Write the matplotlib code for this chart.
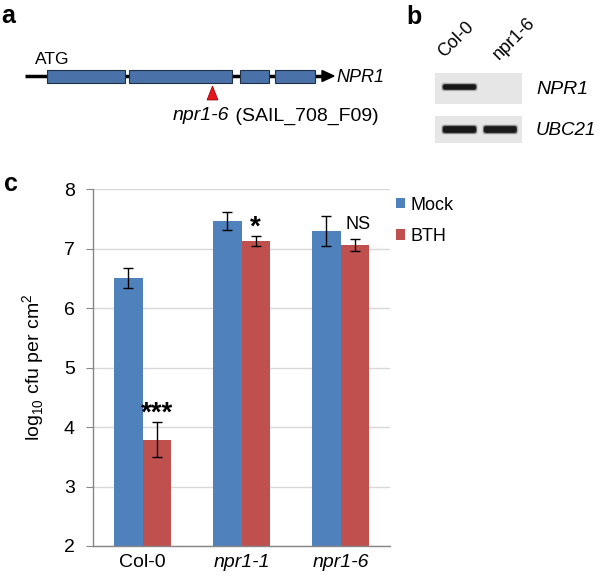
import matplotlib
matplotlib.use("Agg")
import matplotlib.pyplot as plt
from matplotlib.patches import Rectangle, Polygon, FancyBboxPatch
import numpy as np

plt.rcParams['font.family'] = ['Liberation Sans', 'DejaVu Sans']
plt.rcParams['mathtext.fontset'] = 'custom'
plt.rcParams['mathtext.rm'] = 'Liberation Sans'

# ---- data (panel c) ----
genotypes = ["Col-0", "npr1-1", "npr1-6"]
genotype_italic = [False, True, True]
mock_vals = [6.51, 7.46, 7.30]
mock_err = [0.17, 0.15, 0.25]
bth_vals = [3.79, 7.13, 7.06]
bth_err = [0.30, 0.08, 0.10]
signif = ["***", "*", "NS"]
series_names = ["Mock", "BTH"]
yticks = [2, 3, 4, 5, 6, 7, 8]

# ---- panel a: gene model (pixel coordinates of the schematic) ----
exon_starts = [47, 129, 240, 275]
exon_ends = [125, 232, 269, 315]
insertion_x = 212.5

# ---- panel b: gel ----
lanes = ["Col-0", "npr1-6"]
genes = ["NPR1", "UBC21"]
band_intensity = [[1.0, 0.0], [1.0, 0.95]]

W, H = 600, 577
fig = plt.figure(figsize=(W / 100, H / 100), dpi=100)

# overlay axes in pixel coordinates for panels a and b
ov = fig.add_axes([0, 0, 1, 1])
ov.set_xlim(0, W)
ov.set_ylim(H, 0)
ov.axis("off")
ov.patch.set_visible(False)

blue = "#4F81BD"
red = "#C0504D"

# panel labels
ov.text(8, 16, "a", fontsize=18, fontweight="bold", ha="center", va="center")
ov.text(414, 17, "b", fontsize=18, fontweight="bold", ha="center", va="center")
ov.text(11, 184, "c", fontsize=18, fontweight="bold", ha="center", va="center")

# gene line + arrow
gy = 76
ov.plot([25, 324], [gy, gy], color="black", lw=2.5, solid_capstyle="butt", zorder=1)
ov.add_patch(Polygon([[322, gy - 5.5], [334, gy], [322, gy + 5.5]], closed=True,
                     color="black", zorder=2))
for s, e in zip(exon_starts, exon_ends):
    ov.add_patch(Rectangle((s, gy - 6.5), e - s, 13, facecolor="#4A72A8",
                           edgecolor="#1F2F45", lw=0.8, zorder=3))
ov.text(52, 60, "ATG", fontsize=12.5, ha="center", va="center")
ov.text(336, 77, "NPR1", fontsize=13, style="italic", ha="left", va="center")
ov.add_patch(Polygon([[insertion_x - 5.5, 100], [insertion_x, 86], [insertion_x + 5.5, 100]],
                     closed=True, facecolor="#E8141B", edgecolor="#8B0000", lw=0.5, zorder=3))
t1 = ov.text(173, 116, "npr1-6", fontsize=14, style="italic", ha="left", va="center")
ov.annotate(" (SAIL_708_F09)", xy=(1, 0.5), xycoords=t1, fontsize=14,
            ha="left", va="center")

# gel
gel_x0, gel_x1 = 435, 522
gel_rows = [(72.5, 103.5), (116, 143)]
lane_x = [(442, 477), (483, 517.5)]
for gi, (y0, y1) in enumerate(gel_rows):
    ov.add_patch(Rectangle((gel_x0, y0), gel_x1 - gel_x0, y1 - y0,
                           facecolor="#E6E6E6", edgecolor="none", zorder=1))
    yc = (y0 + y1) / 2 - 1 if gi == 0 else (y0 + y1) / 2
    th = 5 if gi == 0 else 6.5
    for li, (lx0, lx1) in enumerate(lane_x):
        inten = band_intensity[gi][li]
        if inten <= 0:
            continue
        for k, a in [(3.0, 0.15), (1.8, 0.3), (0.8, 0.5), (0, 0.9)]:
            ov.add_patch(FancyBboxPatch((lx0 + 1 - k * 0.6, yc - th / 2 - k * 0.6),
                                        lx1 - lx0 - 2 + k * 1.2, th + k * 1.2,
                                        boxstyle="round,pad=0,rounding_size=2.5",
                                        facecolor="#111111", edgecolor="none",
                                        alpha=a * inten, zorder=2))
    ov.text(536, (y0 + y1) / 2 + 1, genes[gi], fontsize=14 if gi == 0 else 13.5,
            style="italic", ha="left", va="center")
ov.text(447, 61, lanes[0], fontsize=13, rotation=45, ha="left", va="bottom",
        rotation_mode="anchor")
ov.text(502, 63, lanes[1], fontsize=13, rotation=45, ha="left", va="bottom",
        rotation_mode="anchor")

# ---- panel c: bar chart ----
left, right, top, bottom = 93, 390, 189.3, 546
ax = fig.add_axes([left / W, 1 - bottom / H, (right - left) / W, (bottom - top) / H])
x = np.arange(len(genotypes))
bw = 0.286
overlap = 0.01  # mock bar slips just under the BTH bar so no seam shows
ax.bar(x - bw, [v - 2 for v in mock_vals], bw + overlap, bottom=2, align="edge",
       color=blue, label=series_names[0], lw=0, edgecolor="none", zorder=2)
ax.bar(x + bw / 2, [v - 2 for v in bth_vals], bw, bottom=2, color=red,
       label=series_names[1], lw=0, edgecolor="none", zorder=2.1)
ax.errorbar(x - bw / 2, mock_vals, yerr=mock_err, fmt="none", ecolor="black",
            elinewidth=1, capsize=3.5, capthick=1, zorder=3)
ax.errorbar(x + bw / 2, bth_vals, yerr=bth_err, fmt="none", ecolor="black",
            elinewidth=1, capsize=3.5, capthick=1, zorder=3)
for i, s in enumerate(signif):
    ytop = bth_vals[i] + bth_err[i]
    if s == "NS":
        ax.text(x[i] + bw / 2 + 0.03, ytop + 0.11, s, fontsize=13, ha="center", va="bottom")
    else:
        ax.text(x[i] + bw / 2, ytop - 0.08, s, fontsize=20, fontweight="bold",
                ha="center", va="bottom")

ax.set_xlim(-0.5, 2.5)
ax.set_ylim(2, 8)
ax.set_yticks(yticks)
ax.set_yticklabels([str(t) for t in yticks], fontsize=14)
ax.set_xticks(x)
ax.set_xticklabels(genotypes, fontsize=14)
for lab, it in zip(ax.get_xticklabels(), genotype_italic):
    if it:
        lab.set_style("italic")
ax.tick_params(axis="x", length=0, pad=6)
ax.tick_params(axis="y", length=5, color="#868686", pad=8)
ax.grid(axis="y", color="#D9D9D9", lw=1, zorder=0)
ax.set_axisbelow(True)
for sp in ["top", "right"]:
    ax.spines[sp].set_visible(False)
for sp in ["left", "bottom"]:
    ax.spines[sp].set_color("#868686")
    ax.spines[sp].set_linewidth(1)
ax.set_ylabel(r"log$_{10}$ cfu per cm$^{2}$", fontsize=14, labelpad=12)

leg = ax.legend(loc="upper left", bbox_to_anchor=(0.985, 1.01), frameon=False,
                fontsize=13, handlelength=0.5, handleheight=0.5, handletextpad=0.3,
                labelspacing=0.8, borderaxespad=0.2)

fig.savefig("out.png", dpi=100)
